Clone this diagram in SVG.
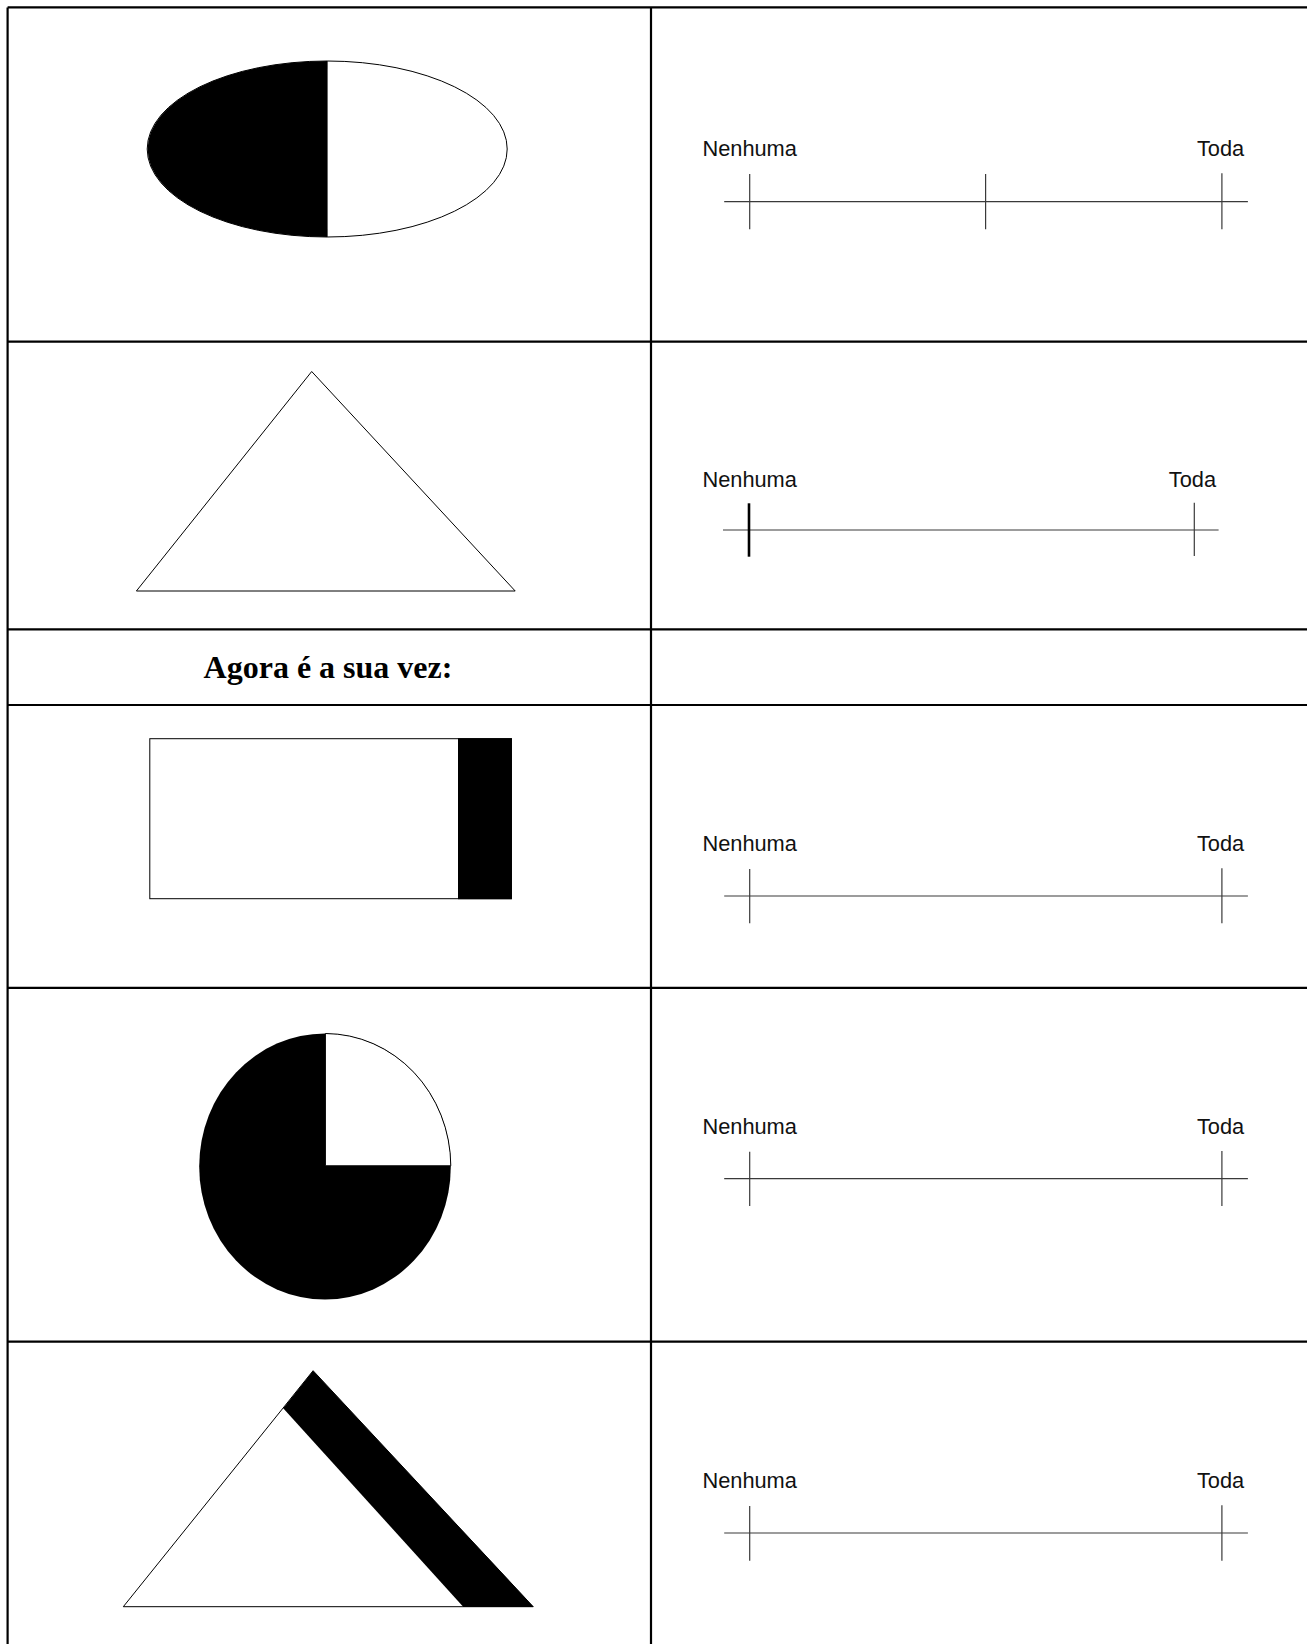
<svg xmlns="http://www.w3.org/2000/svg" width="1307" height="1644" viewBox="0 0 1307 1644">
<style>
.grid{stroke:#000;stroke-width:2.2;fill:none}
.shape{stroke:#000;stroke-width:1;fill:#fff}
.solid{fill:#000;stroke:none}
.rule{stroke:#3a3a3a;stroke-width:1.2;fill:none}
.lbl{font-family:"Liberation Sans",Arial,sans-serif;font-size:21.8px;fill:#111}
.title{font-family:"Liberation Serif","Times New Roman",serif;font-size:32px;font-weight:bold;fill:#000}
</style>
<rect width="1307" height="1644" fill="#fff"/>
<g id="table" class="grid">
<line x1="7.6" y1="7.4" x2="1307" y2="7.4"/>
<line x1="7.6" y1="7.4" x2="7.6" y2="1644"/>
<line x1="651" y1="7.4" x2="651" y2="1644"/>
<line x1="7.6" y1="341.6" x2="1307" y2="341.6"/>
<line x1="7.6" y1="629.3" x2="1307" y2="629.3"/>
<line x1="7.6" y1="705" x2="1307" y2="705"/>
<line x1="7.6" y1="987.8" x2="1307" y2="987.8"/>
<line x1="7.6" y1="1341.7" x2="1307" y2="1341.7"/>
</g>
<g id="ellipse-half">
<ellipse class="shape" cx="327.2" cy="149" rx="180" ry="88"/>
<path class="solid" d="M327.6,61 A180,88 0 0 0 327.6,237 Z"/>
</g>
<g id="triangle-empty">
<polygon class="shape" points="311.7,371.5 136.4,591 515.2,591"/>
</g>
<g id="title-cell">
<text class="title" x="328" y="677.5" text-anchor="middle">Agora é a sua vez:</text>
</g>
<g id="rect-part">
<rect class="shape" x="149.8" y="738.7" width="361.6" height="160"/>
<rect class="solid" x="458" y="738.2" width="53.9" height="161"/>
</g>
<g id="circle-three-quarters">
<ellipse class="solid" cx="325" cy="1166.5" rx="125.8" ry="133"/>
<path class="shape" stroke-width="0.8" d="M325.4,1165.8 L325.4,1033.5 A125.8,133 0 0 1 450.8,1165.8 Z"/>
</g>
<g id="triangle-band">
<polygon class="shape" points="313.1,1370.7 123.3,1606.7 533.2,1606.7"/>
<polygon class="solid" points="313.1,1370.7 533.6,1606.9 463.4,1606.9 283.2,1408.3"/>
</g>
<g id="scale-1">
<text class="lbl" x="702.4" y="156">Nenhuma</text>
<text class="lbl" x="1244.2" y="156" text-anchor="end">Toda</text>
<line class="rule" x1="724.2" y1="201.7" x2="1247.9" y2="201.7"/>
<line class="rule" x1="749.7" y1="174" x2="749.7" y2="229.3"/>
<line class="rule" x1="985.6" y1="174" x2="985.6" y2="229.3"/>
<line class="rule" x1="1221.9" y1="173.3" x2="1221.9" y2="229.3"/>
</g>
<g id="scale-2">
<text class="lbl" x="702.4" y="486.7">Nenhuma</text>
<text class="lbl" x="1216" y="486.7" text-anchor="end">Toda</text>
<line class="rule" x1="723" y1="530" x2="1218.6" y2="530"/>
<line x1="749" y1="503.3" x2="749" y2="556.7" stroke="#000" stroke-width="2.6"/>
<line class="rule" x1="1194.3" y1="502.7" x2="1194.3" y2="556"/>
</g>
<g id="scale-4">
<text class="lbl" x="702.4" y="851">Nenhuma</text>
<text class="lbl" x="1244.2" y="851" text-anchor="end">Toda</text>
<line class="rule" x1="724.2" y1="896" x2="1247.9" y2="896"/>
<line class="rule" x1="749.7" y1="869" x2="749.7" y2="923.3"/>
<line class="rule" x1="1221.9" y1="868.3" x2="1221.9" y2="923.3"/>
</g>
<g id="scale-5">
<text class="lbl" x="702.4" y="1134.3">Nenhuma</text>
<text class="lbl" x="1244.2" y="1134.3" text-anchor="end">Toda</text>
<line class="rule" x1="724.2" y1="1178.7" x2="1247.9" y2="1178.7"/>
<line class="rule" x1="749.7" y1="1151.7" x2="749.7" y2="1206"/>
<line class="rule" x1="1221.9" y1="1151" x2="1221.9" y2="1206"/>
</g>
<g id="scale-6">
<text class="lbl" x="702.4" y="1488.3">Nenhuma</text>
<text class="lbl" x="1244.2" y="1488.3" text-anchor="end">Toda</text>
<line class="rule" x1="724.2" y1="1533" x2="1247.9" y2="1533"/>
<line class="rule" x1="749.7" y1="1506" x2="749.7" y2="1560.7"/>
<line class="rule" x1="1221.9" y1="1505.3" x2="1221.9" y2="1560.7"/>
</g>
</svg>
